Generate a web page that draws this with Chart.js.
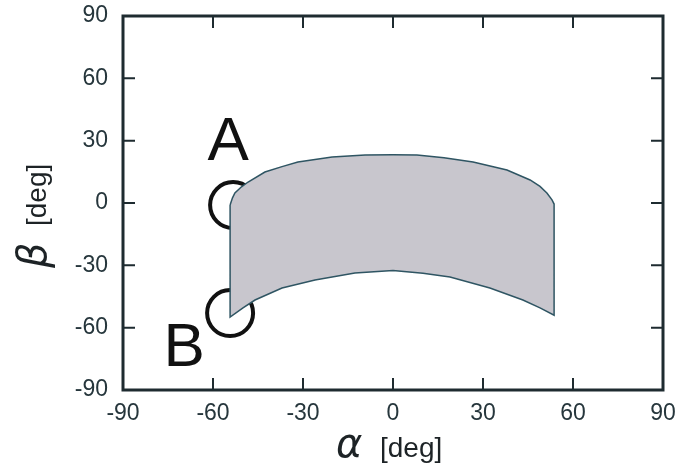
<!DOCTYPE html>
<html>
<head>
<meta charset="utf-8">
<script src="https://cdn.jsdelivr.net/npm/chart.js@4/dist/chart.umd.min.js"></script>
<style>
    html, body { margin: 0; padding: 0; background: #ffffff; }
    canvas { display: block; }
</style>
</head>
<body>
<canvas id="region-chart" width="685" height="469"></canvas>
<script>
// upper boundary of the region
const topAlpha = [-54.3, -53.5, -52.7, -50.5, -48.3, -42.7, -37, -31.7, -20.3, -9.3, 0, 8, 17, 26.7, 38, 45.7, 49, 51.3, 53, 53.7];
const topBeta = [-1, 2.5, 4.8, 7.8, 10.1, 14.9, 17.5, 19.7, 22.1, 23.1, 23.2, 23.1, 21.8, 19.7, 15.9, 11.1, 8, 4.8, 1.5, -0.5];

// lower boundary
const bottomAlpha = [-54.3, -50, -46, -37, -26, -12.7, 0, 10, 19, 32.3, 43.3, 49, 53.7];
const bottomBeta = [-54.9, -50.5, -46.7, -40.9, -37.1, -33.7, -32.5, -33.8, -35.6, -40.9, -46.7, -50.5, -54];

// marked points
const markerLabels = ['A', 'B'];
const markerAlpha = [-53.3, -54.3];
const markerBeta = [-1, -53];

const tickValues = [-90, -60, -30, 0, 30, 60, 90];

const frameColor = '#1e2b30';
const textColor = '#1d2326';

function buildRegion() {
    const points = [];
    topAlpha.forEach((a, i) => points.push({x: a, y: topBeta[i]}));
    for (let i = bottomAlpha.length - 1; i >= 0; i--) {
        points.push({x: bottomAlpha[i], y: bottomBeta[i]});
    }
    points.push({x: topAlpha[0], y: topBeta[0]});
    return points;
}

const framePlugin = {
    id: 'frame',
    afterDatasetsDraw(chart) {
        const ctx = chart.ctx;
        const area = chart.chartArea;
        const xScale = chart.scales.x;
        const yScale = chart.scales.y;

        // letters next to the circles
        const meta = chart.getDatasetMeta(1);
        const offsets = [[-5, -62], [-46, 36]];
        ctx.save();
        ctx.fillStyle = '#111111';
        ctx.font = '62px "Liberation Sans", Arial, sans-serif';
        ctx.textAlign = 'center';
        ctx.textBaseline = 'middle';
        meta.data.forEach((pt, i) => {
            ctx.fillText(markerLabels[i], pt.x + offsets[i][0], pt.y + offsets[i][1]);
        });
        ctx.restore();

        // frame with inward ticks on all four sides
        ctx.save();
        ctx.strokeStyle = frameColor;
        ctx.lineWidth = 3;
        ctx.strokeRect(area.left, area.top, area.right - area.left, area.bottom - area.top);
        ctx.lineWidth = 2;
        ctx.beginPath();
        tickValues.slice(1, -1).forEach(v => {
            const px = xScale.getPixelForValue(v);
            ctx.moveTo(px, area.bottom);
            ctx.lineTo(px, area.bottom - 12);
            ctx.moveTo(px, area.top);
            ctx.lineTo(px, area.top + 12);
            const py = yScale.getPixelForValue(v);
            ctx.moveTo(area.left, py);
            ctx.lineTo(area.left + 12, py);
            ctx.moveTo(area.right, py);
            ctx.lineTo(area.right - 12, py);
        });
        ctx.stroke();
        ctx.restore();

        // axis titles
        ctx.save();
        ctx.fillStyle = textColor;
        ctx.textBaseline = 'alphabetic';
        ctx.textAlign = 'left';
        ctx.font = 'italic 40px "DejaVu Sans", sans-serif';
        ctx.fillText('α', 336, 457);
        ctx.font = '28px "Liberation Sans", Arial, sans-serif';
        ctx.fillText('[deg]', 380, 457);

        ctx.translate(46, 268);
        ctx.rotate(-Math.PI / 2);
        ctx.font = 'italic 40px "DejaVu Sans", sans-serif';
        ctx.fillText('β', 0, 0);
        ctx.font = '28px "Liberation Sans", Arial, sans-serif';
        ctx.fillText('[deg]', 42, 0);
        ctx.restore();
    }
};

const tickFont = {
    size: 23,
    family: '"Liberation Sans", Arial, sans-serif'
};

new Chart('region-chart', {
    type: 'scatter',
    data: {
        datasets: [
            {
                data: buildRegion(),
                showLine: true,
                fill: 'shape',
                backgroundColor: 'rgb(200, 198, 205)',
                borderColor: '#2f5563',
                borderWidth: 1.5,
                pointRadius: 0,
                tension: 0
            },
            {
                data: markerAlpha.map((a, i) => ({x: a, y: markerBeta[i]})),
                pointStyle: 'circle',
                pointRadius: 23,
                pointBorderWidth: 4,
                pointBorderColor: '#111111',
                pointBackgroundColor: 'rgba(0, 0, 0, 0)',
                showLine: false
            }
        ]
    },
    options: {
        responsive: false,
        devicePixelRatio: 1,
        animation: false,
        layout: {
            autoPadding: false,
            padding: {top: 16, right: 22, left: 0, bottom: 0}
        },
        plugins: {
            legend: {display: false},
            tooltip: {enabled: false}
        },
        scales: {
            x: {
                type: 'linear',
                min: -90,
                max: 90,
                afterFit(scale) {
                    scale.height = 79;
                    scale.paddingLeft = 0;
                    scale.paddingRight = 0;
                },
                afterBuildTicks(scale) {
                    scale.ticks = tickValues.map(v => ({value: v}));
                },
                grid: {display: false, drawTicks: false},
                border: {display: false},
                ticks: {
                    color: '#26363c',
                    font: tickFont,
                    padding: 10,
                    maxRotation: 0
                }
            },
            y: {
                type: 'linear',
                min: -90,
                max: 90,
                afterFit(scale) {
                    scale.width = 123;
                    scale.paddingTop = 0;
                    scale.paddingBottom = 0;
                },
                afterBuildTicks(scale) {
                    scale.ticks = tickValues.map(v => ({value: v}));
                },
                grid: {display: false, drawTicks: false},
                border: {display: false},
                ticks: {
                    color: '#26363c',
                    font: tickFont,
                    padding: 15
                }
            }
        }
    },
    plugins: [framePlugin]
});
</script>
</body>
</html>
